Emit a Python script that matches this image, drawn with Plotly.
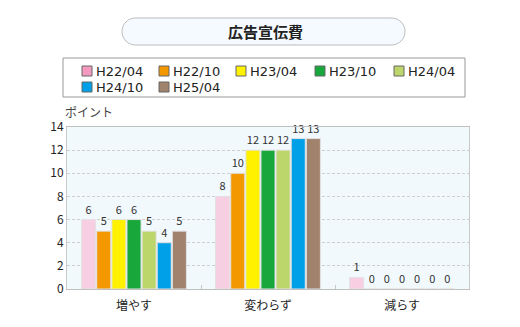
import math
import plotly.graph_objects as go

categories = ["増やす", "変わらず", "減らす"]
series_names = ["H22/04", "H22/10", "H23/04", "H23/10", "H24/04", "H24/10", "H25/04"]
values = {
    "H22/04": [6, 8, 1],
    "H22/10": [5, 10, 0],
    "H23/04": [6, 12, 0],
    "H23/10": [6, 12, 0],
    "H24/04": [5, 12, 0],
    "H24/10": [4, 13, 0],
    "H25/04": [5, 13, 0],
}
bar_colors = ["#f8cfe2", "#f39800", "#fff100", "#17a73b", "#bdd66b", "#00a0e9", "#a0826d"]
legend_colors = ["#f49ac1", "#f39800", "#fff100", "#17a73b", "#bdd66b", "#00a0e9", "#a0826d"]
title_text = "広告宣伝費"
y_title = "ポイント"

W, H = 520, 327
L, R, T, B = 67, 51, 127, 38
pw, ph = W - L - R, H - T - B

def px2x(px):
    return (px - L) / pw

def px2y(py):
    return (H - B - py) / ph

fig = go.Figure()
for name, bc in zip(series_names, bar_colors):
    fig.add_trace(go.Bar(
        x=categories, y=values[name], name=name, showlegend=False,
        marker=dict(color=bc, line=dict(color="#e2e2e2", width=1)),
        text=[str(v) for v in values[name]], textposition="outside",
        textfont=dict(size=11, color="#333333", family="Noto Sans CJK JP"),
        cliponaxis=False,
    ))

def pill(x0, y0, x1, y1, r):
    pts = []
    for cx, cy, a0 in [(x1 - r, y0 + r, -90), (x1 - r, y1 - r, 0), (x0 + r, y1 - r, 90), (x0 + r, y0 + r, 180)]:
        for i in range(13):
            a = math.radians(a0 + i * 90 / 12)
            pts.append((cx + r * math.cos(a), cy + r * math.sin(a)))
    return "M " + " L ".join(f"{px2x(x):.5f},{px2y(y):.5f}" for x, y in pts) + " Z"

# title pill
fig.add_shape(type="path", xref="paper", yref="paper",
              path=pill(122, 18, 405, 45, 13.5),
              fillcolor="#f4faff", line=dict(color="#bcbcbc", width=1), layer="below")
fig.add_annotation(text=f"<b>{title_text}</b>", xref="paper", yref="paper",
                   x=px2x(265), y=px2y(31.5), xanchor="center", yanchor="middle", showarrow=False,
                   font=dict(size=15, color="#222222", family="Noto Sans CJK JP"))

# legend box with entries
fig.add_shape(type="rect", xref="paper", yref="paper",
              x0=px2x(63), x1=px2x(465), y0=px2y(58), y1=px2y(97),
              fillcolor="white", line=dict(color="#999999", width=1), layer="below")
col_x = [82, 159, 236, 315, 394]
row_y = [71, 87]
for i, (name, lc) in enumerate(zip(series_names, legend_colors)):
    cx = col_x[i % 5]
    cy = row_y[i // 5]
    fig.add_shape(type="rect", xref="paper", yref="paper",
                  x0=px2x(cx), x1=px2x(cx + 10), y0=px2y(cy - 5), y1=px2y(cy + 5),
                  fillcolor=lc, line=dict(color="#666666", width=1))
    fig.add_annotation(text=name, xref="paper", yref="paper",
                       x=px2x(cx + 12), y=px2y(cy), xanchor="left", yanchor="middle",
                       showarrow=False,
                       font=dict(size=13, color="#222222", family="DejaVu Sans"))

fig.add_annotation(text=y_title, xref="paper", yref="paper", x=px2x(63), y=px2y(111),
                   xanchor="left", yanchor="middle", showarrow=False,
                   font=dict(size=12, color="#444444", family="Noto Sans CJK JP"))

fig.update_layout(
    width=W, height=H, margin=dict(l=L, r=R, t=T, b=B, autoexpand=False),
    paper_bgcolor="white", plot_bgcolor="#f2f9fd",
    barmode="group", bargap=0.21, bargroupgap=0.07,
    showlegend=False,
    uniformtext=dict(minsize=11, mode="show"),
    font=dict(family="Noto Sans CJK JP", color="#333333"),
)
fig.update_xaxes(showline=True, linecolor="#c0c0c0", mirror=True,
                 ticks="inside", tickson="boundaries", ticklen=4, tickcolor="#c8c8c8",
                 ticklabelstandoff=6,
                 tickfont=dict(size=12, color="#222222"))
fig.update_yaxes(range=[0, 14], dtick=2, showline=True, linecolor="#c8c8c8", mirror=True,
                 showgrid=True, gridcolor="#cfcfcf", griddash="3px,2px", gridwidth=1,
                 zeroline=False, ticks="", tickfont=dict(size=12, color="#222222"))

fig.write_html("out.html")
